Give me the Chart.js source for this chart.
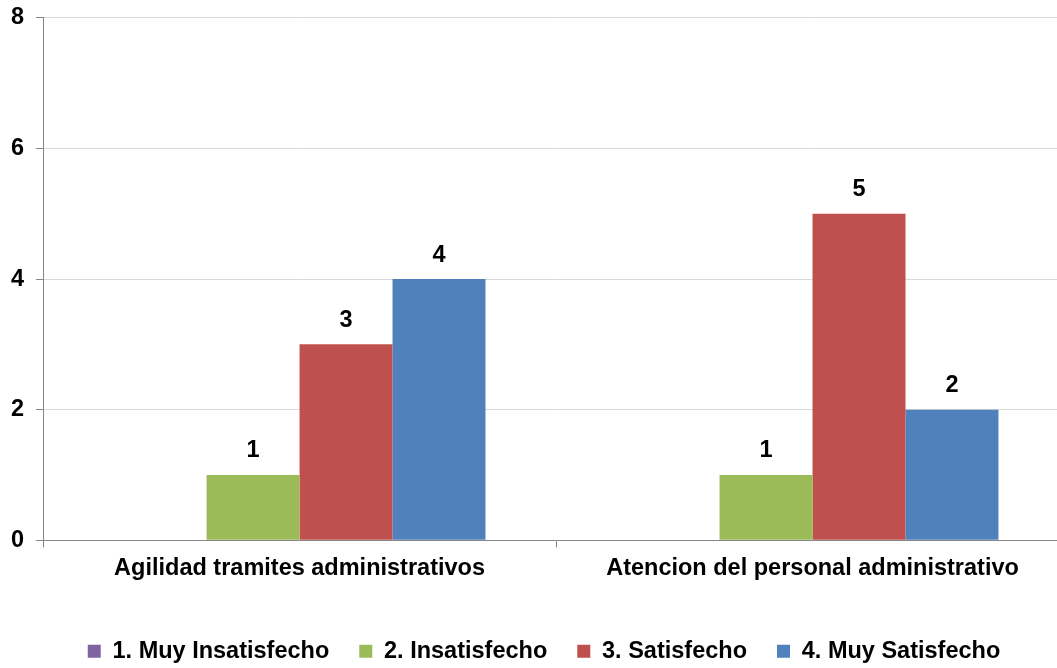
<!DOCTYPE html>
<html>
<head>
<meta charset="utf-8">
<script src="https://cdn.jsdelivr.net/npm/chart.js@4"></script>
<style>
  html, body { margin: 0; padding: 0; background: #fff; overflow: hidden; }
  #wrap { width: 1091px; height: 679px; position: relative; margin-top: -6px; margin-left: -4px; }
</style>
</head>
<body>
<div id="wrap"><canvas id="chart"></canvas></div>
<script>
const categories = ['Agilidad tramites administrativos', 'Atencion del personal administrativo'];
const seriesNames = ['1. Muy Insatisfecho', '2. Insatisfecho', '3. Satisfecho', '4. Muy Satisfecho'];
const muyInsatisfecho = [0, 0];
const insatisfecho = [1, 1];
const satisfecho = [3, 5];
const muySatisfecho = [4, 2];
const colors = ['#8064A2', '#9BBB59', '#C0504D', '#4F81BD'];

const FONT = 'Liberation Sans, Arial, sans-serif';
const SIZE = 23.5;

// draw the value above each bar (skip zeros)
const valueLabels = {
  id: 'valueLabels',
  afterDatasetsDraw(chart) {
    const ctx = chart.ctx;
    ctx.save();
    ctx.font = 'bold ' + SIZE + 'px ' + FONT;
    ctx.fillStyle = '#000';
    ctx.textAlign = 'center';
    ctx.textBaseline = 'middle';
    chart.data.datasets.forEach((ds, i) => {
      chart.getDatasetMeta(i).data.forEach((bar, j) => {
        if (!ds.data[j]) return;
        ctx.fillText(ds.data[j], bar.x, bar.y - 24);
      });
    });
    ctx.restore();
  }
};

// the legend sits a bit right of the plot centre in the original
const legendShift = {
  id: 'legendShift',
  afterLayout(chart) {
    chart.legend.left += 10;
    chart.legend.right += 10;
  }
};

const allData = [muyInsatisfecho, insatisfecho, satisfecho, muySatisfecho];

new Chart(document.getElementById('chart'), {
  type: 'bar',
  data: {
    labels: categories,
    datasets: seriesNames.map((name, i) => ({
      label: name,
      data: allData[i],
      backgroundColor: colors[i],
      borderWidth: 0,
      barPercentage: 1,
      categoryPercentage: 0.725
    }))
  },
  options: {
    responsive: true,
    maintainAspectRatio: false,
    animation: false,
    layout: { padding: { top: 5, right: 18, left: 3, bottom: 0 } },
    plugins: {
      tooltip: { enabled: false },
      legend: {
        position: 'bottom',
        labels: {
          font: { family: FONT, size: SIZE, weight: 'bold' },
          color: '#000',
          boxWidth: 13,
          boxHeight: 13,
          padding: 30
        }
      }
    },
    scales: {
      x: {
        grid: { drawOnChartArea: false, drawTicks: true, tickLength: 7, color: '#868686' },
        border: { color: '#868686' },
        ticks: { font: { family: FONT, size: SIZE, weight: 'bold' }, color: '#000', padding: 7 },
        afterFit(scale) { scale.height += 20; }
      },
      y: {
        min: 0,
        max: 8,
        ticks: { stepSize: 2, font: { family: FONT, size: SIZE, weight: 'bold', lineHeight: 1 }, color: '#000', padding: 12 },
        grid: { color: '#D9D9D9', tickColor: '#868686', tickLength: 7 },
        border: { color: '#868686' }
      }
    }
  },
  plugins: [valueLabels, legendShift]
});
</script>
</body>
</html>
